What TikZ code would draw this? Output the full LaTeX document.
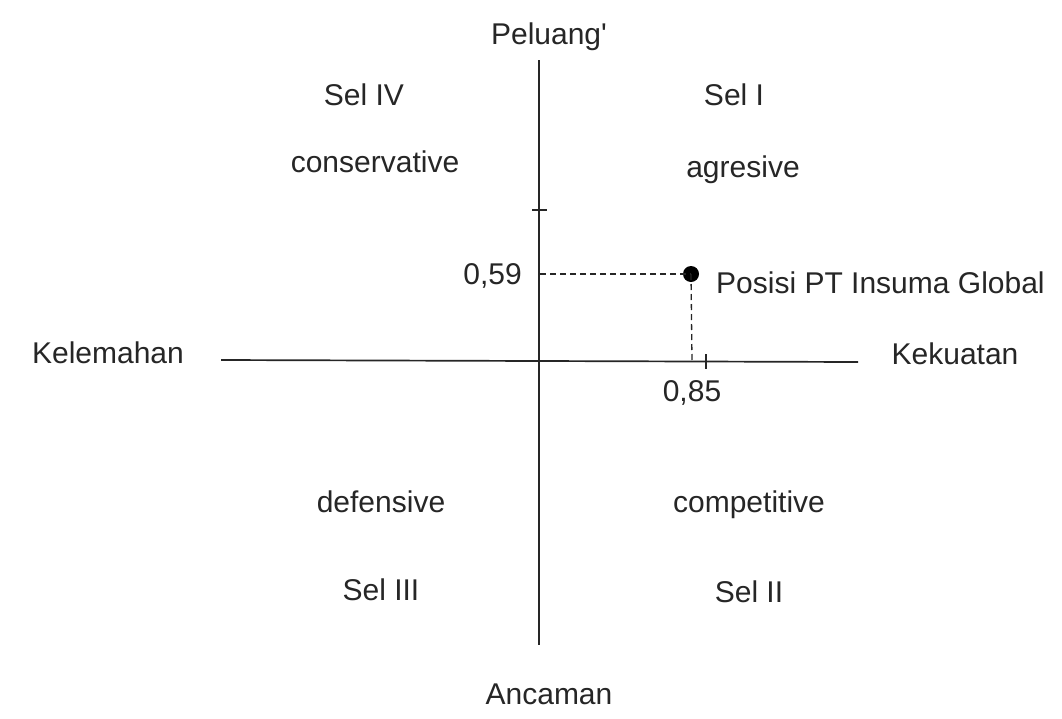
\documentclass[tikz,border=0pt]{standalone}
\usepackage{fontspec}
\setmainfont{Liberation Sans}
\begin{document}
\begin{tikzpicture}[x=1pt,y=-1pt,
  lbl/.style={anchor=base,inner sep=0pt,font=\fontsize{30}{33}\selectfont,text=black!85},
  axis/.style={line width=1.7pt,black!85},
  guide/.style={line width=1.3pt,dash pattern=on 6pt off 4pt,black!85}]
\useasboundingbox (0,0) rectangle (1062,718);
\fill[white] (0,0) rectangle (1062,718);
% axes
\coordinate (vtop) at (539,60);
\coordinate (vbot) at (539,645);
\coordinate (hl) at (221,360);
\coordinate (hr) at (858,362);
\draw[axis] (vtop) -- (vbot);
\draw[axis] (hl) -- (hr);
% ticks
\coordinate (t1a) at (532,210);
\coordinate (t1b) at (547,210);
\draw[axis] (t1a) -- (t1b);
\coordinate (t2a) at (706,354);
\coordinate (t2b) at (706,369);
\draw[axis] (t2a) -- (t2b);
% position
\coordinate (y59) at (540,274);
\coordinate (x85) at (692,361);
\node[circle,fill=black,inner sep=0pt,minimum size=16pt] (pos) at (691,274) {};
\draw[guide] (y59) -- (pos.center);
\draw[guide] (pos.center) -- (x85);
% labels
\node[lbl] (pel) at (549,44) {Peluang\textquotesingle};
\node[lbl] (s4) at (364,105) {Sel IV};
\node[lbl] (s1) at (734,105) {Sel I};
\node[lbl] (cons) at (375,172) {conservative};
\node[lbl] (agr) at (743,177) {agresive};
\node[lbl,anchor=base east] (v59) at (522,284) {0,59};
\node[lbl,anchor=base west] (ptxt) at (716,293) {Posisi PT Insuma Global};
\node[lbl] (kel) at (108,363) {Kelemahan};
\node[lbl] (kek) at (955,364) {Kekuatan};
\node[lbl] (v85) at (692,401) {0,85};
\node[lbl] (def) at (381,512) {defensive};
\node[lbl] (comp) at (749,512) {competitive};
\node[lbl] (s3) at (381,600) {Sel III};
\node[lbl] (s2) at (749,602) {Sel II};
\node[lbl] (anc) at (549,704) {Ancaman};
\end{tikzpicture}
\end{document}
